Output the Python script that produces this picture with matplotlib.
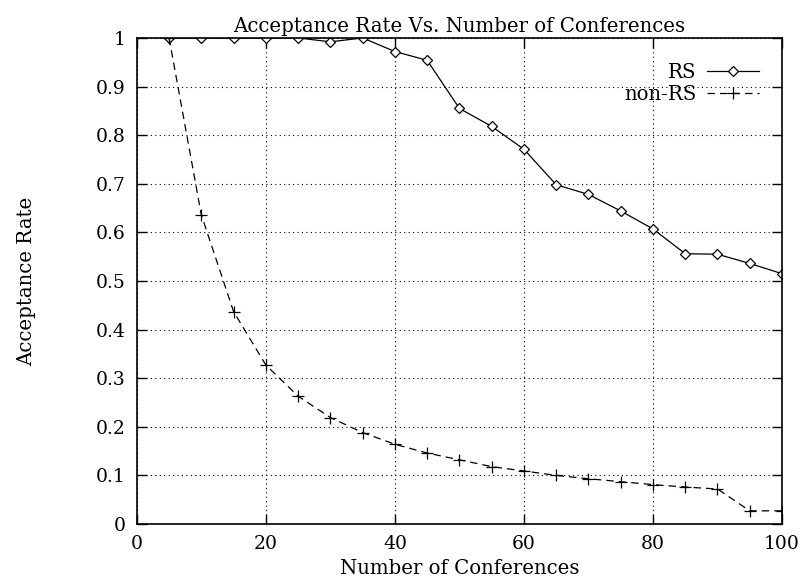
import matplotlib
matplotlib.use("Agg")
import matplotlib.pyplot as plt

# Data
conferences = [5, 10, 15, 20, 25, 30, 35, 40, 45, 50,
               55, 60, 65, 70, 75, 80, 85, 90, 95, 100]
rs = [1.0, 1.0, 1.0, 1.0, 1.0, 0.992, 1.0, 0.972, 0.954, 0.855,
      0.818, 0.771, 0.698, 0.678, 0.644, 0.607, 0.556, 0.555, 0.536, 0.515]
non_rs = [1.0, 0.636, 0.437, 0.327, 0.263, 0.219, 0.188, 0.164, 0.146, 0.132,
          0.118, 0.109, 0.100, 0.093, 0.087, 0.081, 0.076, 0.072, 0.027, 0.027]

xticks = [0, 20, 40, 60, 80, 100]
yticks = [0, 0.1, 0.2, 0.3, 0.4, 0.5, 0.6, 0.7, 0.8, 0.9, 1.0]
ytick_labels = ["0", "0.1", "0.2", "0.3", "0.4", "0.5", "0.6", "0.7", "0.8", "0.9", "1"]

plt.rcParams['font.family'] = ['DejaVu Serif']
fs = 14.2

fig = plt.figure(figsize=(8, 5.8), dpi=100)
ax = fig.add_axes([0.171, 0.0966, 0.8065, 0.838])

ax.plot(conferences, rs, color='black', linewidth=0.9, marker='D',
        markersize=5.5, markerfacecolor='white', markeredgewidth=0.9, label='RS')
ax.plot(conferences, non_rs, color='black', linewidth=0.9, linestyle=(0, (6, 4)),
        marker='+', markersize=9, markeredgewidth=0.9, label='non-RS')

ax.set_xlim(0, 100)
ax.set_ylim(0, 1)
ax.set_xticks(xticks)
ax.set_yticks(yticks)
ax.set_yticklabels(ytick_labels)
ax.tick_params(direction='in', top=True, right=True, length=7, width=1,
               labelsize=fs - 0.7, pad=8)
ax.grid(True, color='black', linestyle=(0, (1, 3)), linewidth=0.8)
for s in ax.spines.values():
    s.set_linewidth(1.2)

ax.set_title("Acceptance Rate Vs. Number of Conferences", fontsize=fs, pad=4)
ax.set_xlabel("Number of Conferences", fontsize=fs, labelpad=4)
ax.set_ylabel("Acceptance Rate", fontsize=fs, labelpad=43)

ax.legend(loc='upper right', frameon=False, markerfirst=False, fontsize=fs,
          handlelength=2.6, handletextpad=0.55, labelspacing=0.12,
          borderpad=0, borderaxespad=0, bbox_to_anchor=(0.964, 0.948))

fig.savefig("out.png", dpi=100)
